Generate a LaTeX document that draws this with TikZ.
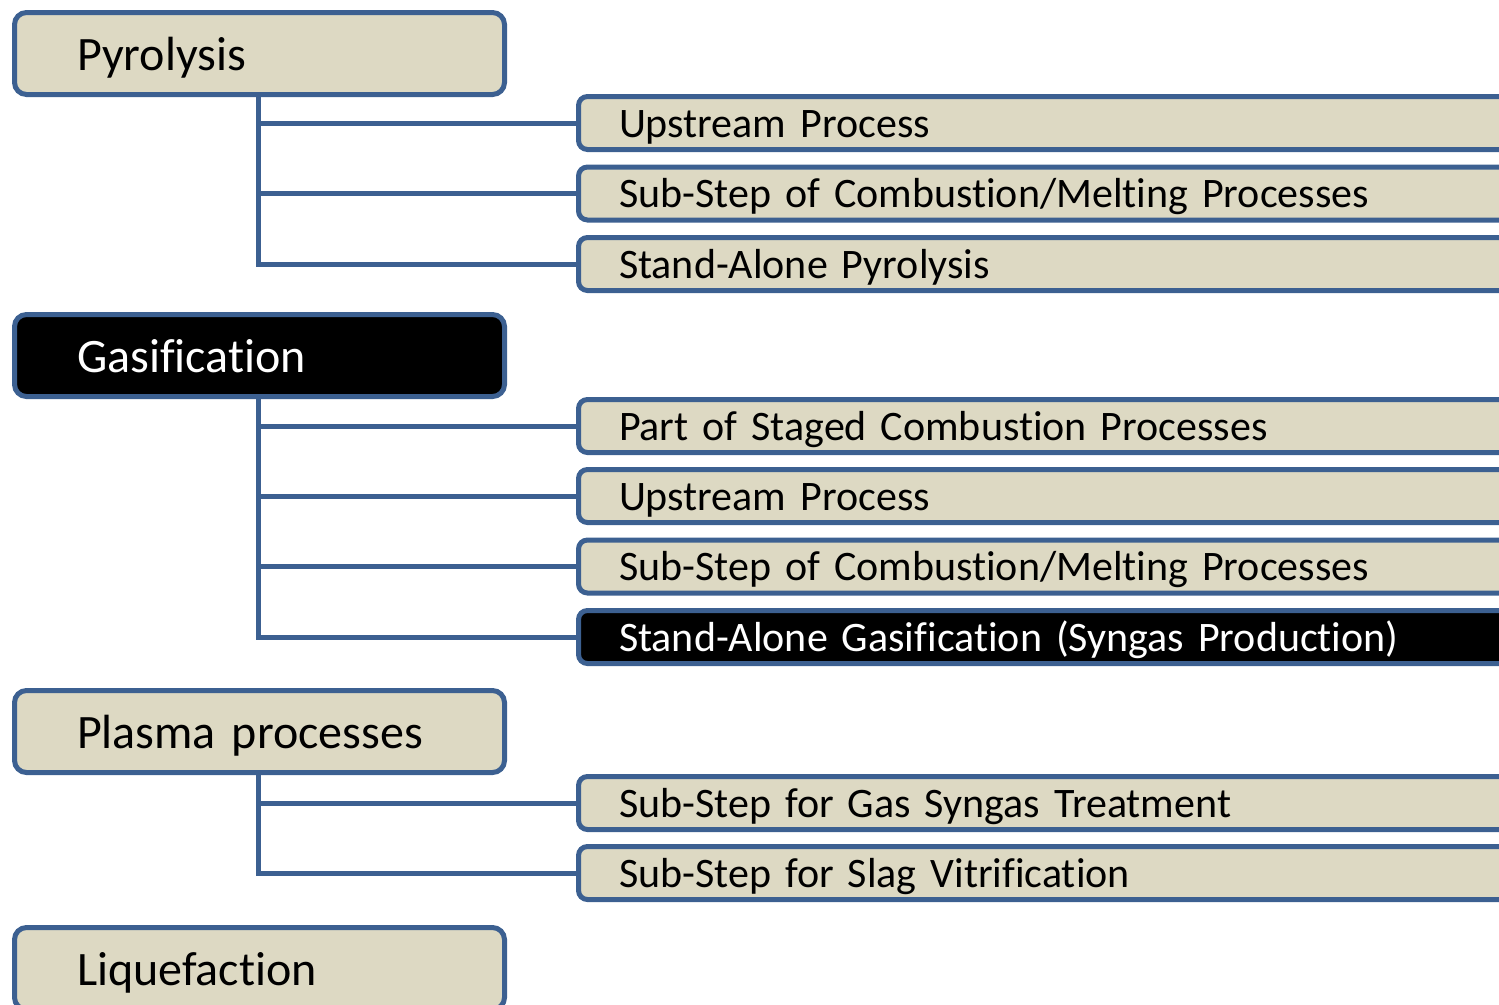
\documentclass[tikz,border=0pt]{standalone}
\usepackage{fontspec}
\setmainfont{Carlito}[Ligatures=NoCommon]
\definecolor{boxfill}{RGB}{221,217,195}
\definecolor{boxline}{RGB}{60,96,145}
\begin{document}
\begin{tikzpicture}[x=1pt,y=-1pt,
  lbox/.style={draw=boxline, fill=boxfill, line width=5pt, rounded corners=12pt,
    anchor=north west, inner xsep=62.5pt, inner ysep=0pt, text width=365pt, align=left,
    minimum height=82pt, text height=36pt, text depth=3pt, font=\fontsize{48}{52}\selectfont},
  rbox/.style={draw=boxline, fill=boxfill, line width=5pt, rounded corners=9pt,
    anchor=west, inner xsep=40.5pt, inner ysep=0pt, text width=900pt, align=left,
    minimum height=53pt, text height=30pt, text depth=2pt, font=\fontsize{42}{46}\selectfont},
  dark/.style={fill=black, text=white},
  conn/.style={draw=boxline, line width=5pt}]
\useasboundingbox (0,0) rectangle (1499,1004);
\clip (0,0) rectangle (1499,1004);
% parents
\node[lbox] (pyr) at (12,10) {Pyrolysis};
\node[lbox,dark] (gas) at (12,312) {Gasification};
\node[lbox] (pla) at (12,688) {Plasma processes};
\node[lbox] (liq) at (12,925) {Liquefaction};
% pyrolysis children
\node[rbox] (p1) at (576,123) {Upstream Process};
\node[rbox] (p2) at (576,193.5) {Sub-Step of Combustion/Melting Processes};
\node[rbox] (p3) at (576,264) {Stand-Alone Pyrolysis};
% gasification children
\node[rbox] (g1) at (576,426) {Part of Staged Combustion Processes};
\node[rbox] (g2) at (576,496) {Upstream Process};
\node[rbox] (g3) at (576,566.5) {Sub-Step of Combustion/Melting Processes};
\node[rbox,dark] (g4) at (576,637) {Stand-Alone Gasification (Syngas Production)};
% plasma children
\node[rbox] (s1) at (576,803) {Sub-Step for Gas Syngas Treatment};
\node[rbox] (s2) at (576,873) {Sub-Step for Slag Vitrification};
% connectors
\foreach \c in {p1,p2,p3} \draw[conn] ([xshift=246.5pt]pyr.south west) |- (\c.west);
\foreach \c in {g1,g2,g3,g4} \draw[conn] ([xshift=246.5pt]gas.south west) |- (\c.west);
\foreach \c in {s1,s2} \draw[conn] ([xshift=246.5pt]pla.south west) |- (\c.west);
\end{tikzpicture}
\end{document}
